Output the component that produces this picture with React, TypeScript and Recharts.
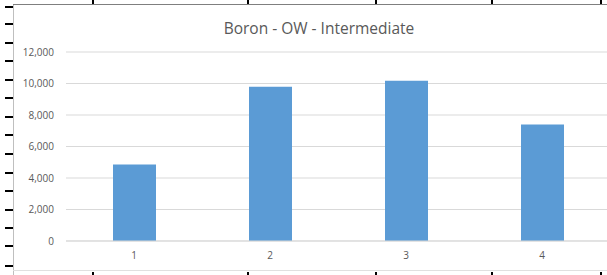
import React from "react";
import {
  BarChart,
  Bar,
  XAxis,
  YAxis,
  CartesianGrid,
} from "recharts";

const categories = ["1", "2", "3", "4"];
const boronValues = [4860, 9800, 10180, 7390];
const yTicks = [0, 2000, 4000, 6000, 8000, 10000, 12000];

const data = categories.map((name, i) => ({ name, value: boronValues[i] }));

const FONT = "'Open Sans', 'Liberation Sans', sans-serif";
const TEXT = "#595959";
const GRID = "#d9d9d9";

// sheet artefacts around the chart (screenshot edges)
const leftMarks = [6, 23, 42, 60, 79, 97, 116, 134, 153, 172, 190, 209, 227, 245, 265];
const edgeMarks = [92, 247, 375, 491, 600];

export default function App() {
  return (
    <div
      style={{
        position: "absolute",
        left: 0,
        top: 0,
        width: 607,
        height: 275,
        overflow: "hidden",
        background: "#fff",
        fontFamily: FONT,
      }}
    >
      {/* left border and marks */}
      <div style={{ position: "absolute", left: 13, top: 4, width: 1, height: 271, background: "#bfbfbf" }} />
      {leftMarks.map((y) => (
        <div key={`l-${y}`} style={{ position: "absolute", left: 5, top: y, width: 8, height: 2, background: "#000" }} />
      ))}
      {/* top border */}
      <div style={{ position: "absolute", left: 13, top: 4, width: 594, height: 1, background: "#7f7f7f" }} />
      {edgeMarks.map((x) => (
        <div key={`t-${x}`} style={{ position: "absolute", left: x, top: 0, width: 2, height: 4, background: "#000" }} />
      ))}
      {/* bottom border */}
      <div style={{ position: "absolute", left: 13, top: 270, width: 594, height: 1, background: "#e0e0e0" }} />
      {edgeMarks.map((x) => (
        <div key={`b-${x}`} style={{ position: "absolute", left: x, top: 272, width: 2, height: 3, background: "#000" }} />
      ))}

      <div
        style={{
          position: "absolute",
          left: 0,
          width: 638,
          top: 17,
          textAlign: "center",
          fontSize: 15.5,
          color: TEXT,
        }}
      >
        Boron - OW - Intermediate
      </div>

      <div style={{ position: "absolute", left: 0, top: 0 }}>
        <BarChart
          width={620}
          height={275}
          data={data}
          margin={{ top: 52, right: 10, left: 0, bottom: 14 }}
          barCategoryGap={0}
        >
          <CartesianGrid vertical={false} stroke={GRID} />
          <XAxis
            dataKey="name"
            axisLine={{ stroke: GRID }}
            tickLine={false}
            tickMargin={5}
            height={20}
            tick={{ fill: TEXT, fontSize: 10, fontFamily: FONT }}
          />
          <YAxis
            width={66}
            domain={[0, 12000]}
            ticks={yTicks}
            axisLine={false}
            tickLine={false}
            tickMargin={6}
            tickFormatter={(v: number) => v.toLocaleString("en-US")}
            tick={{ fill: TEXT, fontSize: 10, fontFamily: FONT }}
          />
          <Bar dataKey="value" fill="#5b9bd5" barSize={43} isAnimationActive={false} />
        </BarChart>
      </div>
    </div>
  );
}
